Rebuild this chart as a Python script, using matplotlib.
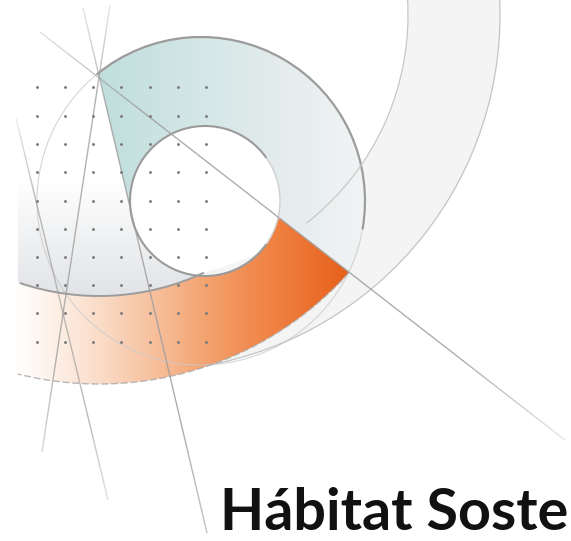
import numpy as np
import matplotlib
matplotlib.use("Agg")
import matplotlib.pyplot as plt
from matplotlib.patches import Circle, Arc
from matplotlib.collections import LineCollection

W, H = 571, 541

# ---- content ----
title_text = "Hábitat Soste"
dot_cols = [37, 65, 93, 121, 150, 178, 206]
dot_rows = [87, 116, 144, 172, 201, 229, 257, 285, 313, 342]

# straight guide lines (x0, y0, x1, y1) in image pixels
line_l1 = [83, 8, 207, 533]
line_l2 = [110, 5, 42, 452]
line_l3 = [16, 118, 108, 500]
line_l4 = [40, 32, 565, 440]

inner_circle = (205, 201, 75)        # white disc
ring_circle = (201, 201, 164)        # teal ring outer edge
band_center = (144, 15)              # large pale band
band_radii = (264, 356)
orange_center = (99, 48)             # orange band
orange_radii = (248, 336)

fig = plt.figure(figsize=(W / 100, H / 100), dpi=100)
fig.patch.set_facecolor("white")
ax = fig.add_axes([0, 0, 1, 1])

S = 2
xs = (np.arange(W * S) + 0.5) / S
ys = (np.arange(H * S) + 0.5) / S
X, Y = np.meshgrid(xs, ys)


def dist(c):
    return np.hypot(X - c[0], Y - c[1])


def side(line):
    x0, y0, x1, y1 = line
    return (x1 - x0) * (Y - y0) - (y1 - y0) * (X - x0)


def layer(rgb, mask, z):
    img = np.zeros(X.shape + (4,))
    img[..., :3] = rgb
    img[..., 3] = mask.astype(float)
    ax.imshow(img, extent=(0, W, H, 0), origin="upper",
              interpolation="antialiased", zorder=z)


def grad(coord, stops, cols):
    cols = np.asarray(cols, float) / 255.0
    out = np.zeros(coord.shape + (3,))
    for k in range(3):
        out[..., k] = np.interp(coord, stops, cols[:, k])
    return out


d_in = dist(inner_circle)
d_ring = dist(ring_circle)
d_band = dist(band_center)
d_or = dist(orange_center)
s1 = side(line_l1)   # <0 : right of L1
s4 = side(line_l4)   # >0 : below L4

# 1. pale band
band_mask = (d_band >= band_radii[0]) & (d_band <= band_radii[1]) & (X >= 18)
layer(np.array([0.958, 0.960, 0.962]), band_mask, 1)

# 2. grey gradient under the ring, left side
grey_mask = (d_or < orange_radii[0]) & (X >= 18) & (Y > 150) & (d_in >= inner_circle[2])
t = np.clip((Y - 180) / (292 - 180), 0, 1)
grey_rgb = grad(t, [0, 1], [(255, 255, 255), (226, 228, 231)])
layer(grey_rgb, grey_mask, 2)

# 3. teal sector of the ring
ring = (d_ring <= ring_circle[2]) & (d_in >= inner_circle[2])
teal_mask = ring & (s1 < 0) & ((s4 < 0) | ((X < 205) & (Y < 215)))
teal_rgb = grad(X, [95, 180, 280, 370],
                [(190, 222, 220), (208, 229, 228), (228, 236, 237), (242, 244, 245)])
layer(teal_rgb, teal_mask, 3)

# 4. orange band
or_mask = ((d_or >= orange_radii[0]) & (d_or <= orange_radii[1]) &
           (d_in >= inner_circle[2]) & (s4 > 0) & (X >= 18))
or_rgb = grad(X, [25, 60, 100, 150, 200, 250, 300, 350],
              [(255, 252, 250), (253, 238, 228), (250, 220, 200), (247, 194, 160),
               (244, 166, 117), (241, 140, 80), (237, 118, 52), (230, 95, 25)])
layer(or_rgb, or_mask, 4)

# ---- outlines ----
ax.add_patch(Circle(ring_circle[:2], ring_circle[2], fill=False,
                    ec="#cbcbcb", lw=0.8, alpha=0.8, zorder=5))
ax.add_patch(Arc(ring_circle[:2], 2 * ring_circle[2], 2 * ring_circle[2],
                 theta1=230.5, theta2=370, ec="#9c9c9c", lw=1.6, zorder=5))
ax.add_patch(Arc(inner_circle[:2], 2 * inner_circle[2], 2 * inner_circle[2],
                 theta1=35, theta2=325, ec="#9a9a9a", lw=1.5, zorder=5))
ax.add_patch(Arc(inner_circle[:2], 2 * inner_circle[2], 2 * inner_circle[2],
                 theta1=-35, theta2=35, ec="#d0d0d0", lw=1.0, zorder=5))
ax.add_patch(Arc(band_center, 2 * band_radii[1], 2 * band_radii[1],
                 theta1=-3, theta2=80, ec="#c4c4c4", lw=0.9, zorder=5))
ax.add_patch(Arc(band_center, 2 * band_radii[0], 2 * band_radii[0],
                 theta1=-4, theta2=52, ec="#c8c8c8", lw=0.9, zorder=5))
ax.add_patch(Arc(orange_center, 2 * orange_radii[0], 2 * orange_radii[0],
                 theta1=65, theta2=108.6, ec="#9c9c9c", lw=1.4, zorder=5))
ax.add_patch(Arc(orange_center, 2 * orange_radii[1], 2 * orange_radii[1],
                 theta1=42, theta2=104, ec="#a8a8a8", lw=1.0, ls=(0, (5, 2)),
                 alpha=0.8, zorder=5))


def faded_line(line, a0, amid, a1, color=(0.62, 0.62, 0.62), lw=1.0):
    x0, y0, x1, y1 = line
    n = 80
    tt = np.linspace(0, 1, n + 1)
    px = x0 + (x1 - x0) * tt
    py = y0 + (y1 - y0) * tt
    segs = np.stack([np.column_stack([px[:-1], py[:-1]]),
                     np.column_stack([px[1:], py[1:]])], axis=1)
    tm = (tt[:-1] + tt[1:]) / 2
    al = np.interp(tm, [0, 0.2, 0.8, 1], [a0, amid, amid, a1])
    cols = np.zeros((n, 4))
    cols[:, :3] = color
    cols[:, 3] = al
    ax.add_collection(LineCollection(segs, colors=cols, linewidths=lw, zorder=6))


faded_line(line_l1, 0.25, 0.85, 0.6)
faded_line(line_l2, 0.25, 0.8, 0.4)
faded_line(line_l3, 0.2, 0.7, 0.3)
faded_line(line_l4, 0.3, 0.85, 0.25)

gx, gy = np.meshgrid(dot_cols, dot_rows)
ax.scatter(gx.ravel(), gy.ravel(), s=4.5, c="#7d7d7d", linewidths=0, zorder=7)

ax.set_xlim(0, W)
ax.set_ylim(H, 0)
ax.set_aspect("auto")
ax.axis("off")

# ---- title, sized to span x = 220 .. 569 ----
txt = ax.text(220, 530, title_text, fontsize=40, fontweight="bold",
              family=["Lato", "DejaVu Sans"], color="#111111",
              ha="left", va="baseline", zorder=8)
renderer = fig.canvas.get_renderer()
for _ in range(3):
    bb = txt.get_window_extent(renderer)
    txt.set_fontsize(txt.get_fontsize() * 349.0 / bb.width)

fig.savefig("out.png", dpi=100, facecolor="white")
